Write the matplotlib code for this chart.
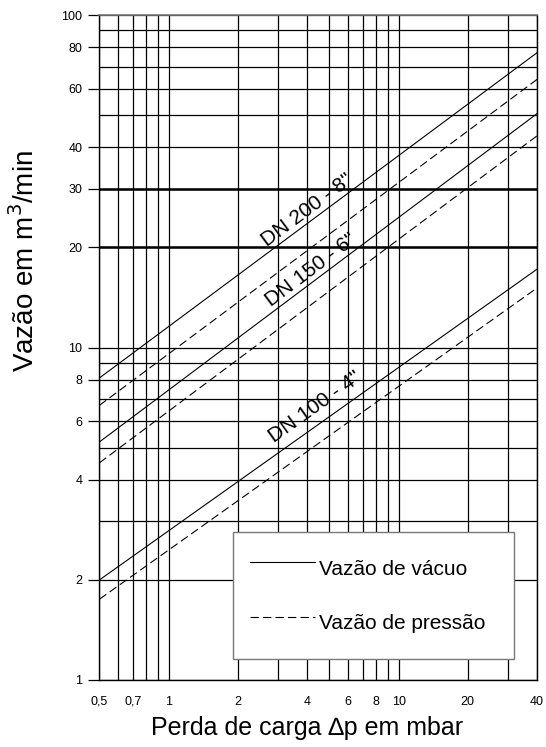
import numpy as np
import matplotlib.pyplot as plt
from matplotlib.ticker import FixedLocator, FixedFormatter, NullFormatter

plt.rcParams['font.family'] = ['Liberation Sans', 'DejaVu Sans']
plt.rcParams['lines.scale_dashes'] = False

# pressure drop (mbar) at the two ends of each line
dp = [0.5, 40]
vac_200 = [8.1, 77.0]
pres_200 = [6.7, 64.0]
vac_150 = [5.2, 50.5]
pres_150 = [4.5, 43.3]
vac_100 = [2.0, 17.2]
pres_100 = [1.75, 15.1]

names = ['DN 200 - 8"', 'DN 150 - 6"', 'DN 100 - 4"']

x_major = [0.5, 0.7, 1, 2, 4, 6, 8, 10, 20, 40]
x_labels = ['0,5', '0,7', '1', '2', '4', '6', '8', '10', '20', '40']
x_minor = [0.6, 0.8, 0.9, 3, 5, 7, 9, 30]
y_major = [1, 2, 4, 6, 8, 10, 20, 30, 40, 60, 80, 100]
y_labels = ['1', '2', '4', '6', '8', '10', '20', '30', '40', '60', '80', '100']
y_minor = [3, 5, 7, 9, 50, 70, 90]

fig = plt.figure(figsize=(5.46, 7.47), dpi=100)
ax = fig.add_axes([0.1822, 0.0897, 0.8013, 0.8902])
ax.set_xscale('log')
ax.set_yscale('log')
ax.set_xlim(0.5, 40)
ax.set_ylim(1, 100)

ax.xaxis.set_major_locator(FixedLocator(x_major))
ax.xaxis.set_major_formatter(FixedFormatter(x_labels))
ax.xaxis.set_minor_locator(FixedLocator(x_minor))
ax.xaxis.set_minor_formatter(NullFormatter())
ax.yaxis.set_major_locator(FixedLocator(y_major))
ax.yaxis.set_major_formatter(FixedFormatter(y_labels))
ax.yaxis.set_minor_locator(FixedLocator(y_minor))
ax.yaxis.set_minor_formatter(NullFormatter())

ax.grid(which='both', color='black', lw=0.9)
for yv in [20, 30]:
    ax.axhline(yv, color='black', lw=1.8, zorder=0.6)

ax.tick_params(axis='y', which='major', length=8, width=0.9, pad=4.3, labelsize=9)
ax.tick_params(axis='x', which='major', length=0, pad=11.5, labelsize=9)
ax.tick_params(which='minor', length=0)
for s in ['left', 'bottom', 'right']:
    ax.spines[s].set_linewidth(1.0)
ax.spines['top'].set_color('#777777')
ax.spines['top'].set_linewidth(1.2)

solid = None
dashed = None
for vac, pres, name in zip([vac_200, vac_150, vac_100], [pres_200, pres_150, pres_100], names):
    solid, = ax.plot(dp, vac, color='black', lw=0.8)
    dashed, = ax.plot(dp, pres, color='black', lw=0.8, dashes=(6, 3))

# label positions along the lines
label_pos = [(4.0, 25.9), (4.16, 17.1), (4.33, 6.62)]
for (lx, ly), vac, name in zip(label_pos, [vac_200, vac_150, vac_100], names):
    p1 = ax.transData.transform((dp[0], vac[0]))
    p2 = ax.transData.transform((dp[1], vac[1]))
    ang = np.degrees(np.arctan2(p2[1] - p1[1], p2[0] - p1[0]))
    ax.text(lx, ly, name, rotation=ang, rotation_mode='anchor',
            ha='center', va='center', fontsize=15)

leg = ax.legend([solid, dashed], ['Vazão de vácuo', 'Vazão de pressão'],
                loc='lower left', bbox_to_anchor=(0.3045, 0.032, 0.6435, 0.191),
                mode='expand', fontsize=15, fancybox=False, framealpha=1,
                edgecolor='#777777', borderpad=0.85, labelspacing=0.85,
                handleheight=2.33, handlelength=3.1, handletextpad=0.2,
                borderaxespad=0)
leg.get_frame().set_linewidth(1.0)

ax.set_xlabel('Perda de carga \u2206p em mbar', fontsize=18)
ax.xaxis.set_label_coords(0.474, -0.054)
ax.set_ylabel('Vazão em m$^3$/min', fontsize=20)
ax.yaxis.set_label_coords(-0.136, 0.63)

fig.savefig('out.png', dpi=100)
